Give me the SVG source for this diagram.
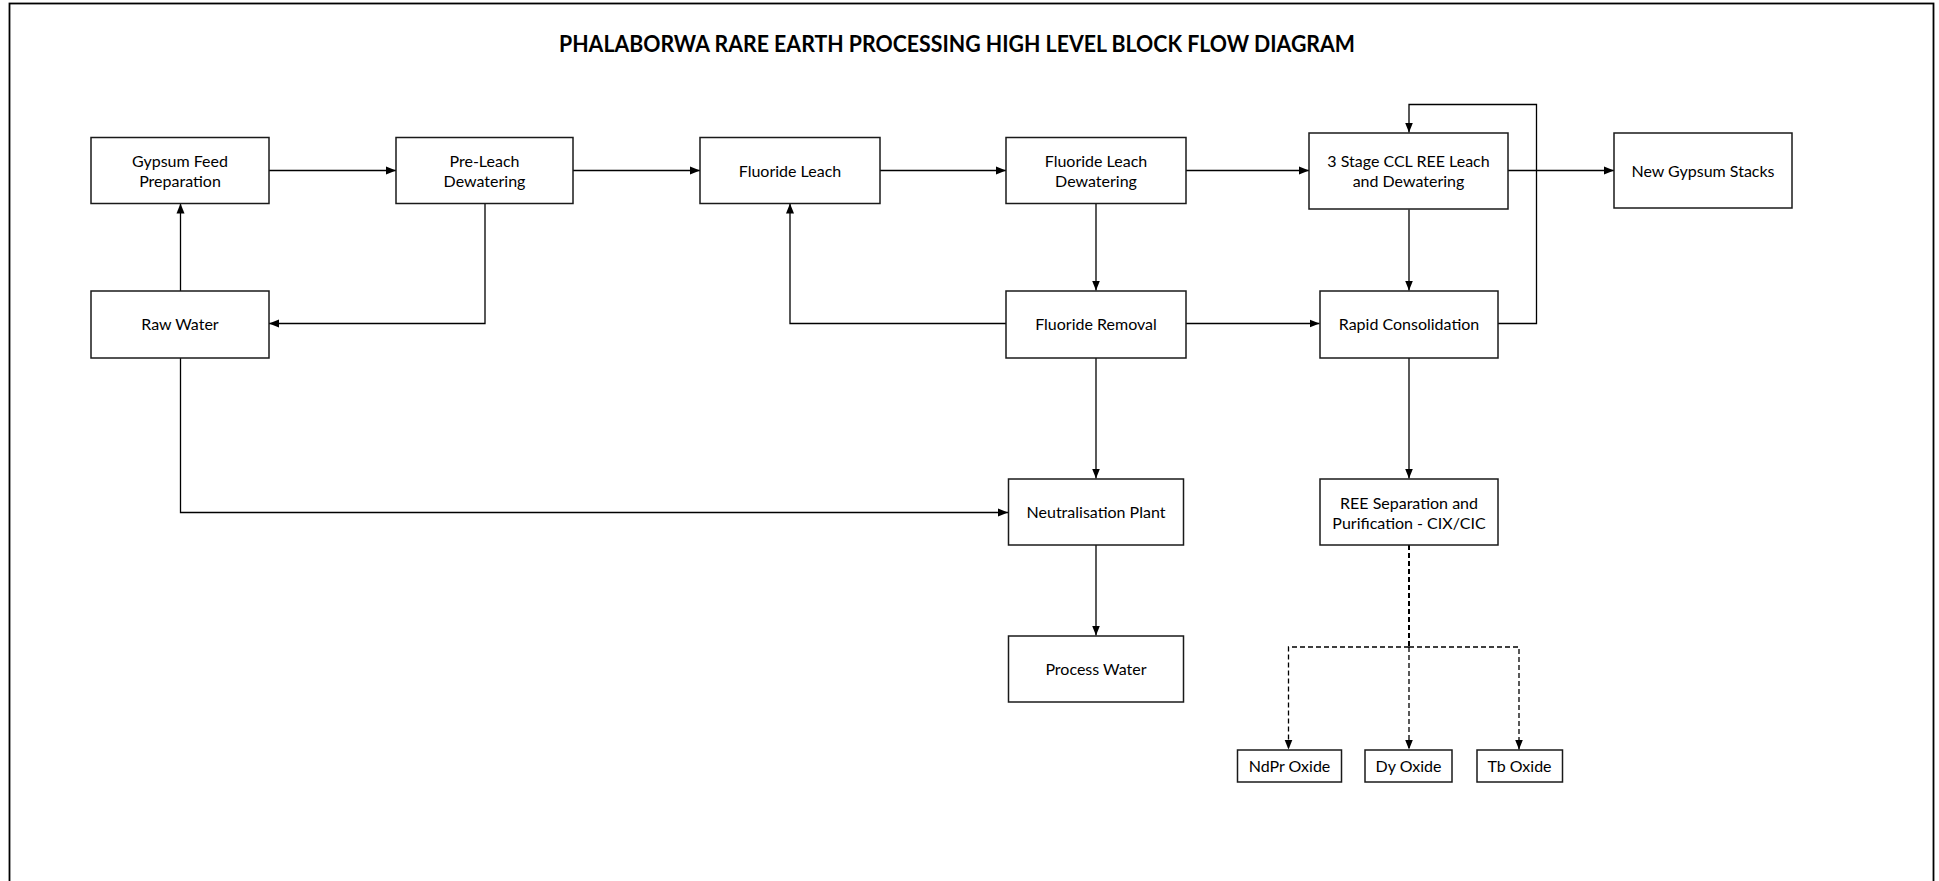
<svg xmlns="http://www.w3.org/2000/svg" width="1939" height="881" viewBox="0 0 1939 881">
<style>
.box{fill:#fff;stroke:#1a1a1a;stroke-width:1.5}
.lbl{font-family:Lato,"Liberation Sans",sans-serif;font-size:16px;fill:#000;text-anchor:middle}
.title{font-family:Lato,"Liberation Sans",sans-serif;font-size:23px;font-weight:bold;fill:#000;text-anchor:middle}
.ln{fill:none;stroke:#000;stroke-width:1.3;marker-end:url(#arr)}
.dash{fill:none;stroke:#000;stroke-width:1.3;stroke-dasharray:5 3;marker-end:url(#arr)}
.dash0{fill:none;stroke:#000;stroke-width:2;stroke-dasharray:5 3}
</style>
<defs>
<marker id="arr" markerUnits="userSpaceOnUse" markerWidth="10" markerHeight="10" viewBox="0 0 10 10" refX="10" refY="5" orient="auto">
<path d="M0,1 L10,5 L0,9 Z" fill="#000"/>
</marker>
</defs>
<rect x="0" y="0" width="1939" height="881" fill="#fff"/>
<rect x="9.5" y="3.5" width="1924" height="900" fill="none" stroke="#000" stroke-width="1.8"/>
<text class="title" x="957" y="51.5" textLength="796" lengthAdjust="spacingAndGlyphs">PHALABORWA RARE EARTH PROCESSING HIGH LEVEL BLOCK FLOW DIAGRAM</text>

<g id="connectors">
<path class="ln" d="M269,170.5 H396"/>
<path class="ln" d="M573,170.5 H700"/>
<path class="ln" d="M880,170.5 H1006"/>
<path class="ln" d="M1186,170.5 H1309"/>
<path class="ln" d="M1508,170.5 H1614"/>
<path class="ln" d="M180.5,291 V203.5"/>
<path class="ln" d="M485,203 V323.5 H269"/>
<path class="ln" d="M1096,203 V290.5"/>
<path class="ln" d="M1006,323.5 H790 V203.5"/>
<path class="ln" d="M1186,323.5 H1319.5"/>
<path class="ln" d="M1409,209.5 V290.5"/>
<path class="ln" d="M1498,323.5 H1536.5 V104.5 H1409 V132.5"/>
<path class="ln" d="M1409,358 V478.5"/>
<path class="ln" d="M1096,358 V478.5"/>
<path class="ln" d="M180.5,358 V512.5 H1008"/>
<path class="ln" d="M1096,545 V635.5"/>
<path class="dash0" d="M1409,545 V647"/>
<path class="dash" d="M1409,647 H1288.5 V749.5"/>
<path class="dash" d="M1409,647 V749.5"/>
<path class="dash" d="M1409,647 H1519 V749.5"/>
</g>

<g id="gypsum-feed"><rect class="box" x="91" y="137.5" width="178" height="66"/><text class="lbl" x="180" y="166.5">Gypsum Feed</text><text class="lbl" x="180" y="186.5">Preparation</text></g>
<g id="pre-leach"><rect class="box" x="396" y="137.5" width="177" height="66"/><text class="lbl" x="484.5" y="166.5">Pre-Leach</text><text class="lbl" x="484.5" y="186.5">Dewatering</text></g>
<g id="fluoride-leach"><rect class="box" x="700" y="137.5" width="180" height="66"/><text class="lbl" x="790" y="176.5">Fluoride Leach</text></g>
<g id="fluoride-leach-dewatering"><rect class="box" x="1006" y="137.5" width="180" height="66"/><text class="lbl" x="1096" y="166.5">Fluoride Leach</text><text class="lbl" x="1096" y="186.5">Dewatering</text></g>
<g id="ccl-leach"><rect class="box" x="1309" y="133" width="199" height="76"/><text class="lbl" x="1408.5" y="166.5">3 Stage CCL REE Leach</text><text class="lbl" x="1408.5" y="186.5">and Dewatering</text></g>
<g id="new-gypsum-stacks"><rect class="box" x="1614" y="133" width="178" height="75"/><text class="lbl" x="1703" y="176.5">New Gypsum Stacks</text></g>
<g id="raw-water"><rect class="box" x="91" y="291" width="178" height="67"/><text class="lbl" x="180" y="330">Raw Water</text></g>
<g id="fluoride-removal"><rect class="box" x="1006" y="291" width="180" height="67"/><text class="lbl" x="1096" y="330">Fluoride Removal</text></g>
<g id="rapid-consolidation"><rect class="box" x="1320" y="291" width="178" height="67"/><text class="lbl" x="1409" y="330">Rapid Consolidation</text></g>
<g id="neutralisation-plant"><rect class="box" x="1008.5" y="479" width="175" height="66"/><text class="lbl" x="1096" y="518">Neutralisation Plant</text></g>
<g id="ree-separation"><rect class="box" x="1320" y="479" width="178" height="66"/><text class="lbl" x="1409" y="508.5">REE Separation and</text><text class="lbl" x="1409" y="529">Purification - CIX/CIC</text></g>
<g id="process-water"><rect class="box" x="1008.5" y="636" width="175" height="66"/><text class="lbl" x="1096" y="675">Process Water</text></g>
<g id="ndpr-oxide"><rect class="box" x="1237.5" y="750" width="104" height="32"/><text class="lbl" x="1289.5" y="772">NdPr Oxide</text></g>
<g id="dy-oxide"><rect class="box" x="1365" y="750" width="87" height="32"/><text class="lbl" x="1408.5" y="772">Dy Oxide</text></g>
<g id="tb-oxide"><rect class="box" x="1477" y="750" width="85.5" height="32"/><text class="lbl" x="1519.5" y="772">Tb Oxide</text></g>
</svg>
